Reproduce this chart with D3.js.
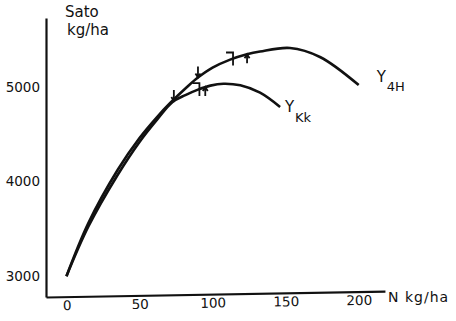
<!DOCTYPE html>
<meta charset="utf-8">
<script src="https://d3js.org/d3.v7.min.js"></script>
<style>
    body { margin: 0; background: #fff; }
    svg text { font-family: "DejaVu Sans", sans-serif; fill: #111; }
</style>
<div id="my_dataviz"></div>
<script>

    // values (N kg/ha vs yield kg/ha)
    var n4H = [0, 15, 35, 50, 62, 71, 82.5, 90, 100, 112, 123.5, 132.5, 153, 173.5, 200];
    var yield4H = [3000, 3562, 4123, 4461, 4683, 4831, 5000, 5100, 5205, 5290, 5347, 5376, 5413, 5318, 5021];

    var nKk = [0, 15, 35, 50, 62, 72.6, 81.4, 89.6, 98.5, 107.4, 119, 132.5, 146.2];
    var yieldKk = [3000, 3525, 4070, 4420, 4655, 4842, 4915, 4970, 5015, 5035, 5018, 4940, 4789];

    // little arrow / bracket marks sitting on each curve (N position + kind)
    var marks4HN = [90, 114, 123.6];
    var marksKkN = [73.5, 91, 95];
    var markKinds = ["down", "bracket", "up"];

    var xTicks = [0, 50, 100, 150, 200];
    var yTicks = [3000, 4000, 5000];

    var width = 456, height = 321;

    var svg = d3.select("#my_dataviz")
        .append("svg")
        .attr("width", width)
        .attr("height", height);

    var x = d3.scaleLinear()
        .domain([-14, 218])
        .range([46, 385]);

    var y = d3.scaleLinear()
        .domain([2780, 5730])
        .range([297, 18]);

    // Y axis
    var yAxis = svg.append("g")
        .attr("transform", "translate(46,0)")
        .call(d3.axisLeft(y).tickValues(yTicks).tickSize(0).tickPadding(6).tickFormat(d3.format("d")));
    yAxis.select(".domain").attr("stroke", "#111").attr("stroke-width", 2.2);
    yAxis.selectAll("text").attr("font-size", "13.5px").style("font-family", "DejaVu Sans, sans-serif");

    // X axis (the scan is slightly tilted)
    var xAxis = svg.append("g")
        .attr("transform", "rotate(-1, 46, 297) translate(0,297)")
        .call(d3.axisBottom(x).tickValues(xTicks).tickSize(0).tickPadding(4));
    xAxis.select(".domain").attr("stroke", "#111").attr("stroke-width", 2.2);
    xAxis.selectAll("text").attr("font-size", "13.5px").style("font-family", "DejaVu Sans, sans-serif");

    // axis titles
    svg.append("text").attr("x", 65).attr("y", 17).attr("font-size", "15px").text("Sato");
    svg.append("text").attr("x", 67).attr("y", 35).attr("font-size", "15px").text("kg/ha");
    svg.append("text").attr("x", 388).attr("y", 302).attr("font-size", "14px")
        .attr("letter-spacing", "1px").text("N kg/ha");

    var line = d3.line()
        .x(function (d) { return x(d[0]); })
        .y(function (d) { return y(d[1]); })
        .curve(d3.curveCatmullRom.alpha(0.5));

    var data4H = d3.zip(n4H, yield4H);
    var dataKk = d3.zip(nKk, yieldKk);

    var path4H = svg.append("path")
        .datum(data4H)
        .attr("fill", "none")
        .attr("stroke", "#111")
        .attr("stroke-width", 2.6)
        .attr("d", line);

    var pathKk = svg.append("path")
        .datum(dataKk)
        .attr("fill", "none")
        .attr("stroke", "#111")
        .attr("stroke-width", 2.6)
        .attr("d", line);

    // find the point of a rendered curve at a given pixel x
    function pointAt(node, px) {
        var lo = 0, hi = node.getTotalLength();
        for (var i = 0; i < 40; i++) {
            var mid = (lo + hi) / 2;
            if (node.getPointAtLength(mid).x < px) lo = mid; else hi = mid;
        }
        return node.getPointAtLength(lo);
    }

    function drawMark(node, n, kind) {
        var p = pointAt(node, x(n));
        var g = svg.append("g")
            .attr("stroke", "#111")
            .attr("stroke-width", 1.8)
            .attr("fill", "none");
        if (kind == "down") {
            g.append("path").attr("d", "M" + p.x + "," + (p.y - 11) + "V" + p.y
                + "M" + (p.x - 2.5) + "," + (p.y - 4) + "L" + p.x + "," + p.y + "L" + (p.x + 2.5) + "," + (p.y - 4));
        } else if (kind == "up") {
            g.append("path").attr("d", "M" + p.x + "," + (p.y + 9) + "V" + p.y
                + "M" + (p.x - 2.5) + "," + (p.y + 4) + "L" + p.x + "," + p.y + "L" + (p.x + 2.5) + "," + (p.y + 4));
        } else {
            g.append("path").attr("d", "M" + (p.x - 7) + "," + (p.y - 6) + "H" + p.x + "V" + (p.y + 7));
        }
    }

    marks4HN.forEach(function (n, i) { drawMark(path4H.node(), n, markKinds[i]); });
    marksKkN.forEach(function (n, i) { drawMark(pathKk.node(), n, markKinds[i]); });

    // curve labels with subscripts, placed off the curve ends
    var end4H = data4H[data4H.length - 1];
    var endKk = dataKk[dataKk.length - 1];

    svg.append("text").attr("x", x(end4H[0]) + 18).attr("y", y(end4H[1]) - 3)
        .attr("font-size", "15px").text("Y");
    svg.append("text").attr("x", x(end4H[0]) + 28).attr("y", y(end4H[1]) + 6)
        .attr("font-size", "13px").text("4H");

    svg.append("text").attr("x", x(endKk[0]) + 5).attr("y", y(endKk[1]) + 5)
        .attr("font-size", "15px").text("Y");
    svg.append("text").attr("x", x(endKk[0]) + 15).attr("y", y(endKk[1]) + 15)
        .attr("font-size", "13px").text("Kk");

</script>
